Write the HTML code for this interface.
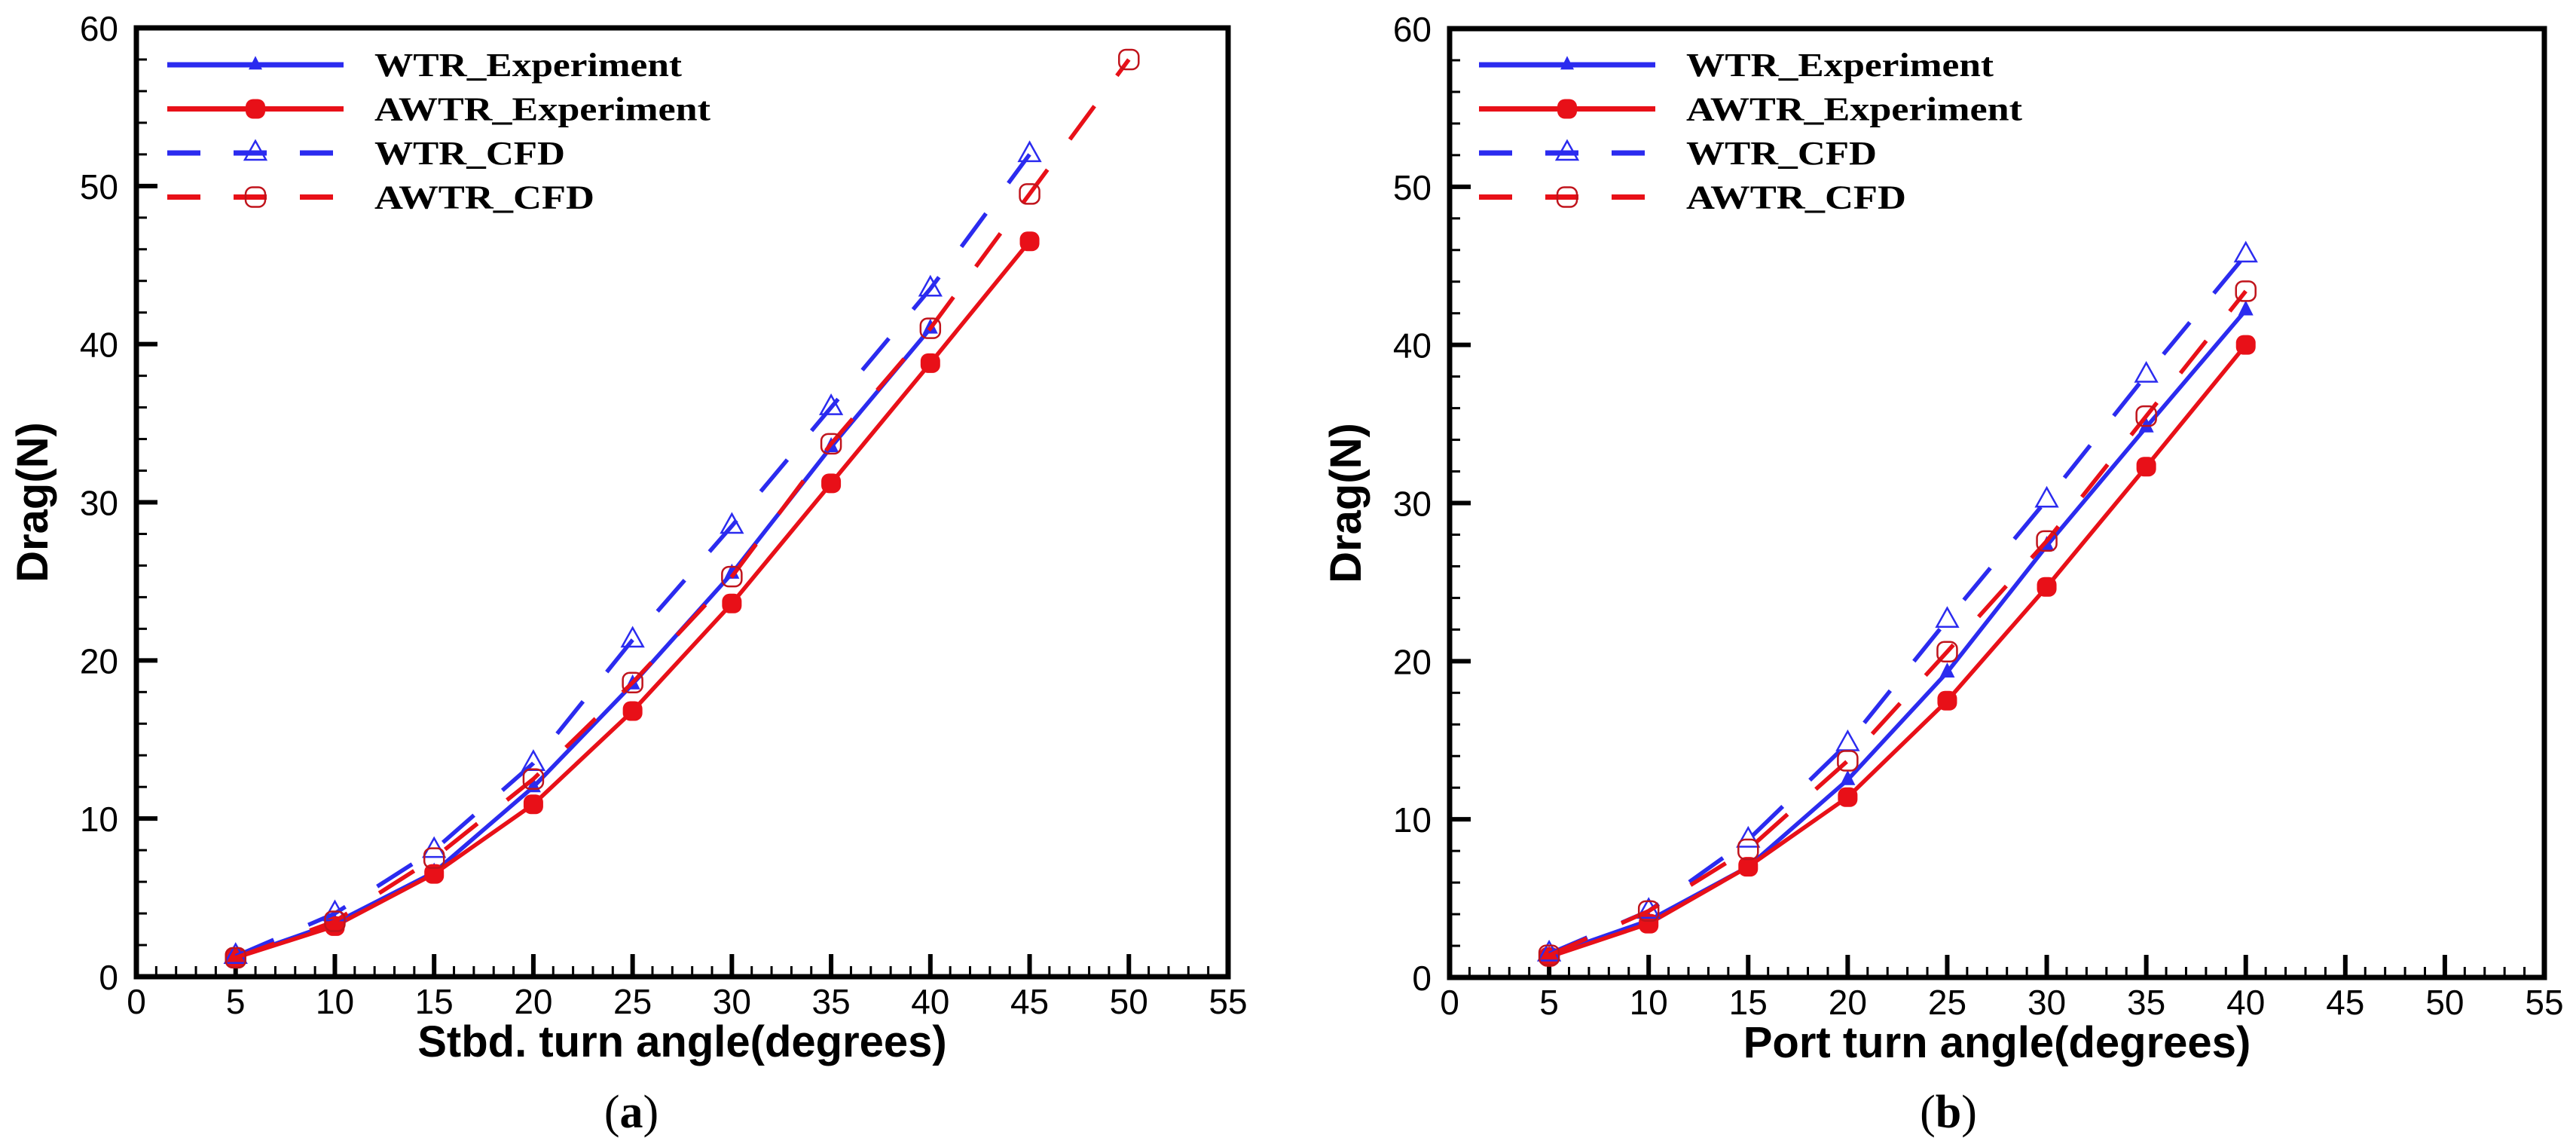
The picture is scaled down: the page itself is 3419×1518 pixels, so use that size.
<!DOCTYPE html>
<html><head><meta charset="utf-8"><style>
html,body{margin:0;padding:0;background:#fff;}
svg{display:block;}
.tick{font-family:"Liberation Sans",sans-serif;font-size:46px;fill:#000;}
.title{font-family:"Liberation Sans",sans-serif;font-size:58px;font-weight:bold;fill:#000;}
.leg{font-family:"Liberation Serif",serif;font-size:44px;font-weight:bold;fill:#000;}
.cap{font-family:"Liberation Serif",serif;font-size:62px;fill:#000;}
</style></head>
<body>
<svg id="fig" width="3419" height="1518" viewBox="0 0 3419 1518" xmlns="http://www.w3.org/2000/svg"></svg>
<script>
const xTicks=[0,5,10,15,20,25,30,35,40,45,50,55];
const yTicks=[0,10,20,30,40,50,60];
const aAngles=[5,10,15,20,25,30,35,40,45,50];
const aWtrExp=[1.2,3.4,6.6,12.0,18.5,25.5,33.5,41.0];
const aAwtrExp=[1.2,3.2,6.5,10.9,16.8,23.6,31.2,38.8,46.5];
const aWtrCfd=[1.3,4.0,8.0,13.5,21.3,28.5,36.0,43.5,52.0];
const aAwtrCfd=[1.2,3.5,7.5,12.5,18.6,25.3,33.7,41.0,49.5,58.0];
const bAngles=[5,10,15,20,25,30,35,40];
const bWtrExp=[1.4,3.6,7.0,12.5,19.3,27.3,34.8,42.2];
const bAwtrExp=[1.3,3.4,7.0,11.4,17.5,24.7,32.3,40.0];
const bWtrCfd=[1.5,4.2,8.7,14.8,22.6,30.2,38.1,45.7];
const bAwtrCfd=[1.4,4.2,8.1,13.7,20.6,27.6,35.5,43.4];
const legendLabels=["WTR_Experiment","AWTR_Experiment","WTR_CFD","AWTR_CFD"];
const legendWidths=[408,446,253,292];

const NS="http://www.w3.org/2000/svg";
const svg=document.getElementById('fig');
const BLUE="#2b2bef",RED="#e81018";
function mk(tag,attrs,parent){const e=document.createElementNS(NS,tag);for(const k in attrs)e.setAttribute(k,attrs[k]);(parent||svg).appendChild(e);return e;}

function panel(id,x0,x1,y0,y1,xlabel,cap,capX,legX,series){
  const g=mk('g',{});
  
  
  const sx=v=>x0+(x1-x0)*v/55;
  const sy=v=>y0-(y0-y1)*v/60;
  // minor/major ticks x
  for(let v=0;v<=55;v++){
    const major=v%5===0;
    const t=mk('line',{x1:sx(v),x2:sx(v),y1:y0,y2:y0-(major?30:14),stroke:'#000','stroke-width':major?6:3},g);
    
    
  }
  for(let v=0;v<=60;v+=2){
    const major=v%10===0;
    const t=mk('line',{x1:x0,x2:x0+(major?28:14),y1:sy(v),y2:sy(v),stroke:'#000','stroke-width':major?6:3},g);
    
    
  }
  const frame=mk('rect',{x:x0,y:y1,width:x1-x0,height:y0-y1,fill:'none',stroke:'#000','stroke-width':7},g);
  
  
  xTicks.forEach(v=>{const t=mk('text',{x:sx(v),y:y0+49,'text-anchor':'middle',class:'tick'},g);t.textContent=v;
    });
  yTicks.forEach(v=>{const t=mk('text',{x:x0-24,y:sy(v)+17,'text-anchor':'end',class:'tick'},g);t.textContent=v;
    });
  const xt=mk('text',{x:(x0+x1)/2,y:y0+106,'text-anchor':'middle',class:'title'},g);xt.textContent=xlabel;
  
  const yt=mk('text',{x:0,y:0,'text-anchor':'middle',class:'title',transform:`translate(${x0-118},${sy(30)}) rotate(-90)`},g);yt.textContent='Drag(N)';
  
  const ct=mk('text',{x:capX,y:1496,'text-anchor':'middle',class:'cap'},g);
  ct.innerHTML='(<tspan font-weight="bold">'+cap+'</tspan>)';
  

  function marker(type,color,cx,cy,parent,small){
    let m;
    if(type==='tri'){const s=small?9:10;m=mk('polygon',{points:`${cx},${cy-s*1.3} ${cx-s},${cy+s*0.7} ${cx+s},${cy+s*0.7}`,fill:color},parent);}
    else if(type==='dot'){m=mk('rect',{x:cx-13,y:cy-13,width:26,height:26,rx:10,fill:color},parent);}
    else if(type==='otri'){m=mk('polygon',{points:`${cx},${cy-16} ${cx-14},${cy+9} ${cx+14},${cy+9}`,fill:'none',stroke:color,'stroke-width':2.5},parent);}
    else {m=mk('rect',{x:cx-13,y:cy-13,width:26,height:26,rx:9,fill:'none',stroke:'#c0141c','stroke-width':2.5},parent);}
    
    
  }
  series.forEach((s,i)=>{
    const sg=mk('g',{},g);
    
    
    const pts=s.vals.map((v,j)=>[sx(s.x[j]),sy(v)]);
    const p=mk('polyline',{points:pts.map(p=>p.join(',')).join(' '),fill:'none',stroke:s.color,'stroke-width':5.5,'stroke-linejoin':'round'},sg);
    if(s.dash)p.setAttribute('stroke-dasharray','55 50');
    
    
    pts.forEach(pt=>marker(s.m,s.color,pt[0],pt[1],sg));
    // legend
    const ly=86+i*58.5;
    const lg=mk('g',{},g);
    
    
    const ll=mk('line',{x1:legX,x2:legX+234,y1:ly,y2:ly,stroke:s.color,'stroke-width':7},lg);
    if(s.dash)ll.setAttribute('stroke-dasharray','44 44');
    
    
    marker(s.m,s.color,legX+117,ly,lg,true);
    const lt=mk('text',{x:legX+275,y:ly+15,class:'leg',textLength:legendWidths[i],lengthAdjust:'spacingAndGlyphs'},lg);
    lt.textContent=legendLabels[i];
    
    
  });
}
panel('panel-a-stbd',181,1630,1296,37,'Stbd. turn angle(degrees)','a',838,222,[
  {x:aAngles,vals:aWtrExp,color:BLUE,m:'tri',dash:false},
  {x:aAngles,vals:aAwtrExp,color:RED,m:'dot',dash:false},
  {x:aAngles,vals:aWtrCfd,color:BLUE,m:'otri',dash:true},
  {x:aAngles,vals:aAwtrCfd,color:RED,m:'ocir',dash:true}]);
panel('panel-b-port',1924,3377,1297,38,'Port turn angle(degrees)','b',2586,1963,[
  {x:bAngles,vals:bWtrExp,color:BLUE,m:'tri',dash:false},
  {x:bAngles,vals:bAwtrExp,color:RED,m:'dot',dash:false},
  {x:bAngles,vals:bWtrCfd,color:BLUE,m:'otri',dash:true},
  {x:bAngles,vals:bAwtrCfd,color:RED,m:'ocir',dash:true}]);
</script>
</body></html>
